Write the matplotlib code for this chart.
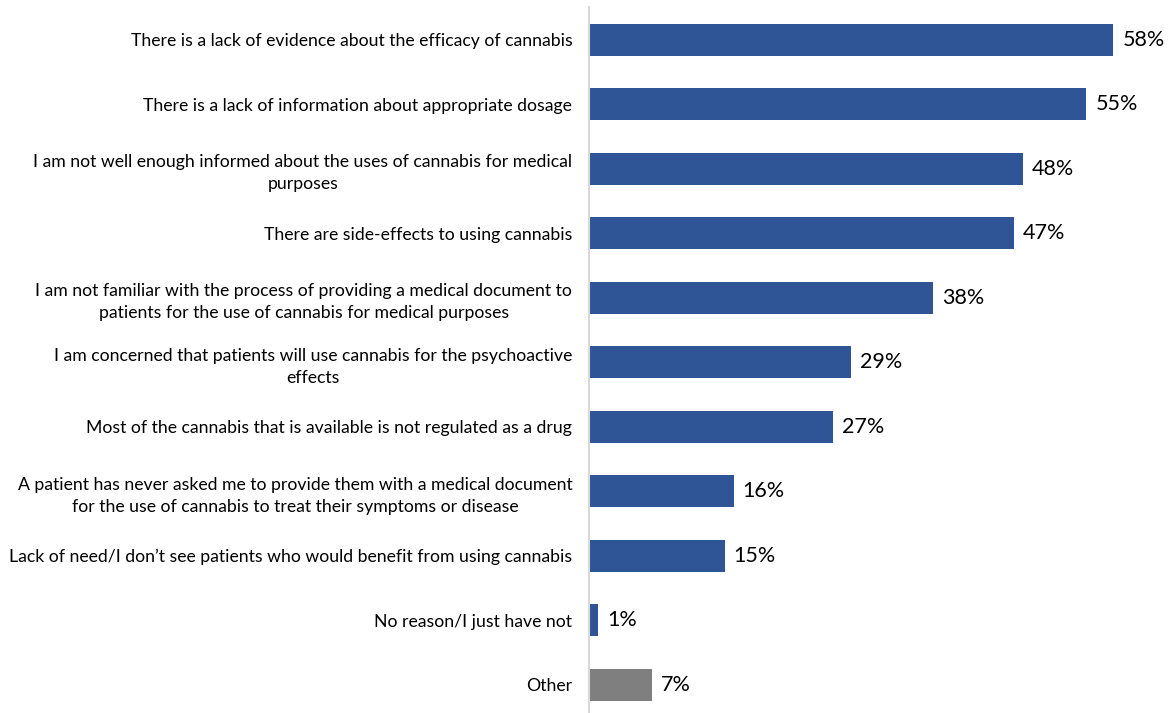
import matplotlib
matplotlib.use("Agg")
import matplotlib.pyplot as plt

plt.rcParams["font.family"] = ["Lato", "DejaVu Sans"]

# Reasons for not providing a medical document (share of respondents)
labels = [
    "There is a lack of evidence about the efficacy of cannabis",
    "There is a lack of information about appropriate dosage",
    "I am not well enough informed about the uses of cannabis for medical\npurposes",
    "There are side-effects to using cannabis",
    "I am not familiar with the process of providing a medical document to\npatients for the use of cannabis for medical purposes",
    "I am concerned that patients will use cannabis for the psychoactive\neffects",
    "Most of the cannabis that is available is not regulated as a drug",
    "A patient has never asked me to provide them with a medical document\nfor the use of cannabis to treat their symptoms or disease",
    "Lack of need/I don\u2019t see patients who would benefit from using cannabis",
    "No reason/I just have not",
    "Other",
]
values = [58, 55, 48, 47, 38, 29, 27, 16, 15, 1, 7]
bar_colors = ["#2F5597"] * 10 + ["#7F7F7F"]

W, H = 1170, 713
fig = plt.figure(figsize=(W / 100, H / 100), dpi=100)
ax = fig.add_axes([589 / W, 0, 1 - 589 / W - 0.002, 1 - 7 / H])

ypos = list(range(len(values)))
ax.barh(ypos, values, height=0.5, color=bar_colors)
ax.set_ylim(10.44, -0.51)
ax.set_xlim(0, 64)

for y, v in zip(ypos, values):
    ax.text(v + 1.0, y, f"{v}%", va="center", ha="left", fontsize=15.5, color="#000000")

ax.set_yticks(ypos)
ax.set_yticklabels(labels, fontsize=12.7, multialignment="center", linespacing=1.45)
ax.tick_params(axis="y", length=0, pad=12)
ax.set_xticks([])

for side in ["top", "right", "bottom"]:
    ax.spines[side].set_visible(False)
ax.spines["left"].set_color("#D9D9D9")
ax.spines["left"].set_linewidth(1.5)

fig.savefig("out.png", dpi=100)
plt.close(fig)
